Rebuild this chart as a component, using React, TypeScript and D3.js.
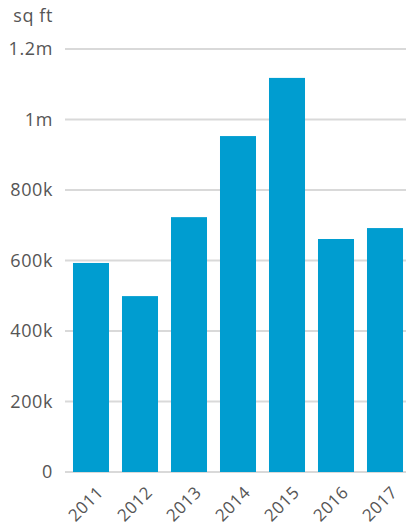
import React from "react";
import * as d3 from "d3";

const years = ["2011", "2012", "2013", "2014", "2015", "2016", "2017"];
const values = [593000, 499000, 723000, 953000, 1118000, 661000, 692000];
const yTicks = [0, 200000, 400000, 600000, 800000, 1000000, 1200000];
const yTickLabels = ["0", "200k", "400k", "600k", "800k", "1m", "1.2m"];
const unitLabel = "sq ft";

const W = 406;
const H = 527;
const FONT = "'Open Sans', sans-serif";

export default function App() {
  const y = d3.scaleLinear().domain([0, 1200000]).range([472, 49]);
  const x = d3
    .scaleBand<string>()
    .domain(years)
    .range([66.5, 409.5])
    .paddingInner(0.265)
    .paddingOuter(0.1325);

  return (
    <svg
      width={W}
      height={H}
      style={{ position: "absolute", left: 0, top: 0, background: "#fff" }}
    >
      <text x={53} y={22} textAnchor="end" fontFamily={FONT} fontSize={18} letterSpacing={0.6} fill="#555">
        {unitLabel}
      </text>
      {yTicks.map((t, i) => (
        <g key={t}>
          <line x1={65} x2={406} y1={y(t)} y2={y(t)} stroke="#d9d9d9" strokeWidth={2} />
          <text
            x={53}
            y={y(t)}
            dy="0.35em"
            textAnchor="end"
            fontFamily={FONT}
            fontSize={18}
            letterSpacing={0.6}
            fill="#555"
          >
            {yTickLabels[i]}
          </text>
        </g>
      ))}
      {years.map((yr, i) => (
        <rect
          key={yr}
          x={x(yr)}
          y={y(values[i])}
          width={x.bandwidth()}
          height={y(0) - y(values[i])}
          fill="#009dd0"
        />
      ))}
      {years.map((yr) => {
        const cx = (x(yr) as number) + x.bandwidth() / 2 + 5;
        const cy = 485;
        return (
          <text
            key={yr}
            x={cx}
            y={cy}
            textAnchor="end"
            dy="0.71em"
            transform={`rotate(-45 ${cx} ${cy})`}
            fontFamily={FONT}
            fontSize={17}
            letterSpacing={0.5}
            fill="#555"
          >
            {yr}
          </text>
        );
      })}
    </svg>
  );
}
